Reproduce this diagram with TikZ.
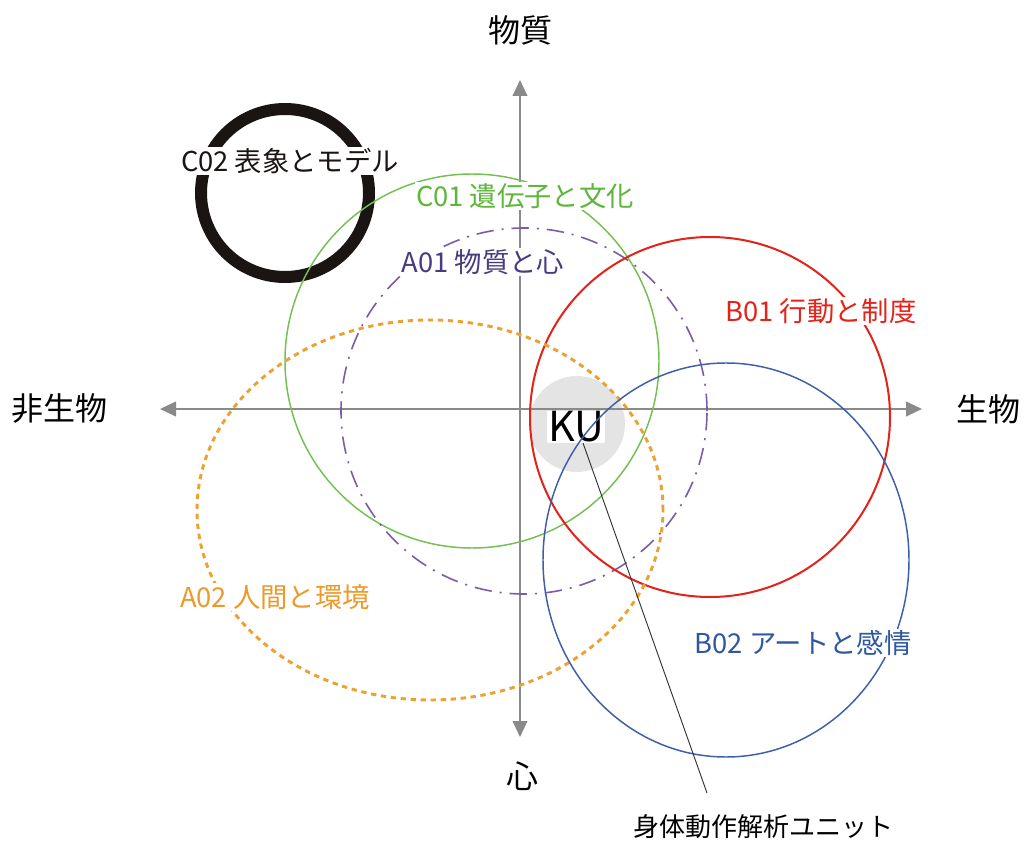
\documentclass[tikz,border=0pt]{standalone}
\usepackage{fontspec}
\setmainfont{Noto Sans CJK JP}
\usetikzlibrary{arrows.meta}
\definecolor{axisgray}{HTML}{8A8A8A}
\definecolor{kugray}{HTML}{E4E4E4}
\definecolor{cblack}{HTML}{1A1412}
\definecolor{cgreen}{HTML}{74C052}
\definecolor{tgreen}{HTML}{5DB53A}
\definecolor{cpurple}{HTML}{7B5CA8}
\definecolor{tpurple}{HTML}{4A3A80}
\definecolor{cred}{HTML}{E2231A}
\definecolor{cblue}{HTML}{3D5FA8}
\definecolor{tblue}{HTML}{2E58A2}
\definecolor{corange}{HTML}{EBA232}
\definecolor{torange}{HTML}{EC9A2A}
\tikzset{
  axisline/.style={draw=axisgray, line width=1.5pt, {Triangle[length=12pt,width=11pt]}-{Triangle[length=12pt,width=11pt]}},
  axislabel/.style={font=\fontsize{24pt}{28pt}\selectfont, text=black},
  grplabel/.style={font=\fontsize{20.5pt}{24pt}\selectfont, fill=white, inner sep=1pt},
  leader/.style={draw=black!80, line width=0.7pt},
}
\begin{document}
\begin{tikzpicture}[x=0.75pt, y=-0.75pt]
\useasboundingbox[fill=white] (0,0) rectangle (1026,845);
% KU gray disc
\fill[kugray] (577,424) circle[radius={48*0.75pt}];
% axes
\coordinate (xl) at (160,409);
\coordinate (xr) at (922,409);
\coordinate (yt) at (520,80);
\coordinate (yb) at (520,737);
\draw[axisline] (xl) -- (xr);
\draw[axisline] (yb) -- (yt);
\node[axislabel] (top) at (520,30) {物質};
\node[axislabel] (bottom) at (522,776) {心};
\node[axislabel] (left) at (60,409) {非生物};
\node[axislabel] (right) at (988,409) {生物};
% circles
\draw[cblack, line width=9pt] (285,193) circle[radius={84*0.75pt}];
\draw[cgreen, line width=1.1pt] (472,361) circle[radius={187*0.75pt}];
\draw[cpurple, line width=1.2pt, dash pattern=on 13pt off 6pt on 1.5pt off 6pt] (524,411) circle[radius={183*0.75pt}];
\draw[cred, line width=1.5pt] (710,417) circle[radius={180*0.75pt}];
\draw[corange, line width=2.2pt, dash pattern=on 4pt off 3.5pt] (430,510) ellipse[x radius={233*0.75pt}, y radius={190*0.75pt}];
% KU label
\node[font=\fontsize{31pt}{34pt}\selectfont, fill=white, inner sep=0.5pt] (ku) at (576,427) {KU};
\draw[cblue, line width=1.1pt] (726,560) ellipse[x radius={183*0.75pt}, y radius={197*0.75pt}];
% group labels
\node[grplabel, text=cblack] (c02) at (290,161) {C02 表象とモデル};
\node[grplabel, text=tgreen] (c01) at (525,196) {C01 遺伝子と文化};
\node[grplabel, text=tpurple] (a01) at (483,262) {A01 物質と心};
\node[grplabel, text=cred] (b01) at (821,311) {B01 行動と制度};
\node[grplabel, text=torange] (a02) at (275,597) {A02 人間と環境};
\node[grplabel, text=tblue] (b02) at (803,643) {B02 アートと感情};
% leader
\node[font=\fontsize{19.5pt}{22pt}\selectfont] (unit) at (763,827) {身体動作解析ユニット};
\coordinate (kuend) at (583,443);
\coordinate (unitend) at (707,793);
\draw[leader] (kuend) -- (unitend);
\end{tikzpicture}
\end{document}
